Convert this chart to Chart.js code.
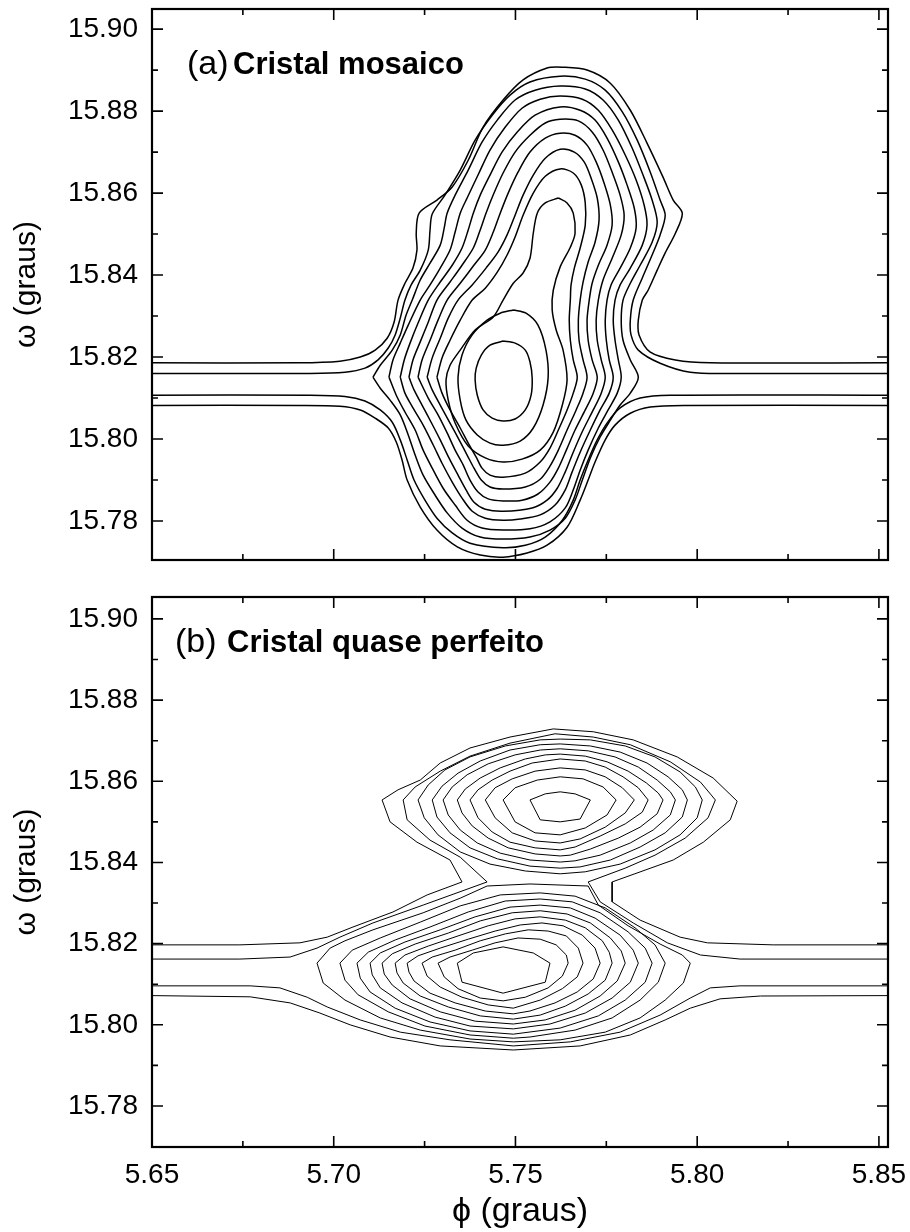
<!DOCTYPE html>
<html>
<head>
<meta charset="utf-8">
<script src="https://cdn.jsdelivr.net/npm/chart.js@4.4.0/dist/chart.umd.min.js"></script>
<style>
  body { margin: 0; background: #fff; }
  #boxA { position: absolute; left: 0; top: 0; }
  #boxB { position: absolute; left: 0; top: 580px; }
</style>
</head>
<body>
<div id="boxA"><canvas id="chartA" width="910" height="580"></canvas></div>
<div id="boxB"><canvas id="chartB" width="910" height="652"></canvas></div>
<script>
// axis ticks
const xTicks = [5.65, 5.70, 5.75, 5.80, 5.85];
const xMinor = [5.675, 5.725, 5.775, 5.825];
const yTicks = [15.78, 15.80, 15.82, 15.84, 15.86, 15.88, 15.90];
const yMinor = [15.79, 15.81, 15.83, 15.85, 15.87, 15.89];

// ---- panel (a): contour lines, [phi, omega] ----
const a1Top = [[5.65,15.8186],[5.6907,15.8186],[5.7017,15.8190],[5.7073,15.8200],[5.7114,15.8217],[5.7147,15.8246],[5.7166,15.8285],[5.7177,15.8339],[5.7196,15.8380],[5.7218,15.8417],[5.7229,15.8461],[5.7227,15.8502],[5.7235,15.8551],[5.7284,15.8583],[5.7326,15.8615],[5.7370,15.8680],[5.7411,15.8761],[5.7466,15.8827],[5.7521,15.8876],[5.7587,15.8905],[5.7629,15.8907],[5.7697,15.8900],[5.7761,15.8868],[5.7816,15.8802],[5.7862,15.8722],[5.7906,15.8639],[5.7934,15.8583],[5.7959,15.8551],[5.7940,15.8502],[5.7912,15.8454],[5.7890,15.8412],[5.7865,15.8363],[5.7849,15.8339],[5.7838,15.8290],[5.7840,15.8254],[5.7871,15.8212],[5.7940,15.8193],[5.8036,15.8186],[5.8526,15.8186]];
const a1Bot = [[5.65,15.8082],[5.6907,15.8082],[5.7017,15.8080],[5.7073,15.8071],[5.7114,15.8051],[5.7150,15.8027],[5.7172,15.7993],[5.7188,15.7949],[5.7202,15.7900],[5.7238,15.7834],[5.7284,15.7778],[5.7340,15.7737],[5.7403,15.7717],[5.7466,15.7712],[5.7532,15.7722],[5.7587,15.7741],[5.7642,15.7785],[5.7678,15.7851],[5.7700,15.7900],[5.7719,15.7944],[5.7747,15.7998],[5.7774,15.8034],[5.7816,15.8063],[5.7871,15.8078],[5.7962,15.8082],[5.8526,15.8082]];
const a2Top = [[5.65,15.8160],[5.6935,15.8160],[5.7031,15.8163],[5.7086,15.8173],[5.7122,15.8193],[5.7150,15.8222],[5.7169,15.8254],[5.7183,15.8295],[5.7196,15.8339],[5.7213,15.8376],[5.7238,15.8412],[5.7260,15.8461],[5.7265,15.8510],[5.7271,15.8549],[5.7306,15.8595],[5.7348,15.8656],[5.7389,15.8729],[5.7436,15.8790],[5.7485,15.8839],[5.7540,15.8871],[5.7623,15.8885],[5.7692,15.8878],[5.7747,15.8851],[5.7794,15.8798],[5.7835,15.8729],[5.7871,15.8651],[5.7898,15.8583],[5.7912,15.8546],[5.7898,15.8498],[5.7876,15.8449],[5.7849,15.8393],[5.7824,15.8339],[5.7816,15.8290],[5.7818,15.8254],[5.7838,15.8217],[5.7898,15.8185],[5.7981,15.8163],[5.8091,15.8160],[5.8526,15.8160]];
const a2Bot = [[5.65,15.8107],[5.6935,15.8107],[5.7031,15.8104],[5.7086,15.8093],[5.7128,15.8071],[5.7161,15.8041],[5.7183,15.7998],[5.7202,15.7949],[5.7221,15.7900],[5.7251,15.7851],[5.7284,15.7807],[5.7326,15.7771],[5.7375,15.7746],[5.7466,15.7735],[5.7527,15.7741],[5.7582,15.7761],[5.7629,15.7802],[5.7659,15.7851],[5.7678,15.7900],[5.7700,15.7949],[5.7725,15.7998],[5.7752,15.8039],[5.7788,15.8076],[5.7843,15.8100],[5.7926,15.8107],[5.8526,15.8107]];
const a3 = [[5.7108,15.8151],[5.7128,15.8180],[5.7161,15.8217],[5.7183,15.8254],[5.7199,15.8302],[5.7216,15.8339],[5.7238,15.8388],[5.7265,15.8429],[5.7293,15.8473],[5.7304,15.8515],[5.7312,15.8551],[5.7334,15.8595],[5.7370,15.8656],[5.7408,15.8724],[5.7450,15.8778],[5.7499,15.8827],[5.7554,15.8851],[5.7623,15.8861],[5.7692,15.8854],[5.7741,15.8827],[5.7783,15.8778],[5.7821,15.8710],[5.7851,15.8644],[5.7876,15.8583],[5.7890,15.8529],[5.7876,15.8480],[5.7843,15.8424],[5.7816,15.8380],[5.7796,15.8339],[5.7791,15.8290],[5.7796,15.8241],[5.7816,15.8193],[5.7838,15.8151],[5.7816,15.8112],[5.7788,15.8083],[5.7761,15.8046],[5.7733,15.8005],[5.7706,15.7954],[5.7684,15.7900],[5.7664,15.7851],[5.7637,15.7807],[5.7595,15.7778],[5.7540,15.7761],[5.7466,15.7756],[5.7403,15.7761],[5.7353,15.7783],[5.7312,15.7820],[5.7279,15.7863],[5.7246,15.7912],[5.7224,15.7961],[5.7205,15.8010],[5.7183,15.8059],[5.7155,15.8095],[5.7128,15.8124]];
const a4 = [[5.7152,15.8151],[5.7163,15.8193],[5.7183,15.8234],[5.7205,15.8278],[5.7238,15.8339],[5.7265,15.8376],[5.7293,15.8417],[5.7320,15.8461],[5.7334,15.8505],[5.7348,15.8551],[5.7367,15.8588],[5.7397,15.8644],[5.7430,15.8705],[5.7472,15.8761],[5.7518,15.8807],[5.7568,15.8829],[5.7623,15.8837],[5.7684,15.8829],[5.7728,15.8802],[5.7766,15.8754],[5.7802,15.8693],[5.7832,15.8632],[5.7854,15.8571],[5.7862,15.8522],[5.7849,15.8473],[5.7816,15.8417],[5.7788,15.8376],[5.7774,15.8339],[5.7769,15.8290],[5.7774,15.8241],[5.7783,15.8193],[5.7791,15.8151],[5.7780,15.8112],[5.7755,15.8071],[5.7728,15.8027],[5.7700,15.7973],[5.7678,15.7924],[5.7659,15.7876],[5.7637,15.7832],[5.7595,15.7798],[5.7540,15.7781],[5.7466,15.7778],[5.7408,15.7783],[5.7367,15.7802],[5.7334,15.7839],[5.7301,15.7880],[5.7271,15.7929],[5.7246,15.7973],[5.7224,15.8022],[5.7196,15.8066],[5.7172,15.8107]];
const a5 = [[5.7183,15.8151],[5.7194,15.8193],[5.7210,15.8234],[5.7232,15.8283],[5.7260,15.8339],[5.7293,15.8383],[5.7326,15.8424],[5.7353,15.8466],[5.7370,15.8510],[5.7384,15.8551],[5.7403,15.8595],[5.7430,15.8644],[5.7463,15.8700],[5.7505,15.8749],[5.7554,15.8790],[5.7623,15.8810],[5.7678,15.8802],[5.7719,15.8778],[5.7752,15.8734],[5.7783,15.8676],[5.7807,15.8620],[5.7827,15.8563],[5.7832,15.8515],[5.7816,15.8466],[5.7788,15.8417],[5.7763,15.8376],[5.7752,15.8339],[5.7747,15.8290],[5.7750,15.8241],[5.7758,15.8193],[5.7769,15.8151],[5.7758,15.8112],[5.7733,15.8071],[5.7706,15.8022],[5.7678,15.7968],[5.7656,15.7920],[5.7637,15.7876],[5.7609,15.7839],[5.7568,15.7815],[5.7513,15.7805],[5.7466,15.7802],[5.7417,15.7807],[5.7381,15.7824],[5.7353,15.7856],[5.7326,15.7895],[5.7298,15.7941],[5.7274,15.7985],[5.7246,15.8034],[5.7218,15.8076],[5.7196,15.8112]];
const a6 = [[5.7207,15.8151],[5.7218,15.8193],[5.7238,15.8237],[5.7260,15.8285],[5.7284,15.8339],[5.7320,15.8383],[5.7353,15.8424],[5.7384,15.8466],[5.7403,15.8510],[5.7419,15.8551],[5.7441,15.8600],[5.7466,15.8649],[5.7499,15.8700],[5.7540,15.8741],[5.7582,15.8771],[5.7623,15.8780],[5.7673,15.8776],[5.7711,15.8749],[5.7741,15.8705],[5.7766,15.8651],[5.7788,15.8595],[5.7799,15.8546],[5.7791,15.8498],[5.7766,15.8441],[5.7741,15.8388],[5.7728,15.8339],[5.7722,15.8290],[5.7725,15.8241],[5.7736,15.8193],[5.7747,15.8151],[5.7736,15.8112],[5.7714,15.8071],[5.7686,15.8022],[5.7659,15.7968],[5.7637,15.7920],[5.7615,15.7880],[5.7587,15.7851],[5.7546,15.7832],[5.7466,15.7824],[5.7417,15.7829],[5.7386,15.7846],[5.7364,15.7876],[5.7342,15.7912],[5.7317,15.7954],[5.7293,15.7998],[5.7268,15.8041],[5.7243,15.8083],[5.7221,15.8120]];
const a7 = [[5.7232,15.8151],[5.7243,15.8193],[5.7265,15.8241],[5.7287,15.8290],[5.7312,15.8339],[5.7348,15.8380],[5.7384,15.8422],[5.7417,15.8461],[5.7439,15.8505],[5.7458,15.8551],[5.7480,15.8600],[5.7507,15.8651],[5.7540,15.8700],[5.7582,15.8734],[5.7623,15.8746],[5.7664,15.8741],[5.7697,15.8717],[5.7722,15.8676],[5.7744,15.8624],[5.7761,15.8571],[5.7766,15.8522],[5.7752,15.8473],[5.7728,15.8424],[5.7711,15.8380],[5.7703,15.8339],[5.7697,15.8290],[5.7700,15.8241],[5.7711,15.8193],[5.7725,15.8151],[5.7714,15.8112],[5.7692,15.8071],[5.7664,15.8022],[5.7640,15.7973],[5.7618,15.7929],[5.7595,15.7895],[5.7562,15.7866],[5.7518,15.7851],[5.7466,15.7849],[5.7425,15.7854],[5.7397,15.7871],[5.7375,15.7900],[5.7356,15.7937],[5.7334,15.7973],[5.7312,15.8015],[5.7287,15.8059],[5.7260,15.8100]];
const a8 = [[5.7257,15.8151],[5.7271,15.8198],[5.7293,15.8246],[5.7315,15.8295],[5.7342,15.8339],[5.7381,15.8376],[5.7419,15.8417],[5.7452,15.8456],[5.7477,15.8498],[5.7499,15.8546],[5.7521,15.8595],[5.7549,15.8644],[5.7582,15.8685],[5.7623,15.8707],[5.7662,15.8700],[5.7689,15.8676],[5.7708,15.8637],[5.7725,15.8588],[5.7730,15.8534],[5.7719,15.8480],[5.7700,15.8432],[5.7686,15.8383],[5.7678,15.8339],[5.7673,15.8290],[5.7675,15.8241],[5.7686,15.8193],[5.7697,15.8151],[5.7686,15.8112],[5.7667,15.8071],[5.7642,15.8022],[5.7618,15.7973],[5.7595,15.7934],[5.7568,15.7902],[5.7527,15.7883],[5.7466,15.7878],[5.7430,15.7883],[5.7406,15.7900],[5.7386,15.7929],[5.7367,15.7961],[5.7345,15.7998],[5.7320,15.8039],[5.7293,15.8083],[5.7271,15.8120]];
const a9 = [[5.7284,15.8151],[5.7298,15.8198],[5.7320,15.8241],[5.7348,15.8290],[5.7381,15.8339],[5.7417,15.8368],[5.7450,15.8407],[5.7477,15.8449],[5.7499,15.8493],[5.7521,15.8546],[5.7549,15.8600],[5.7582,15.8641],[5.7623,15.8659],[5.7659,15.8649],[5.7681,15.8620],[5.7692,15.8576],[5.7692,15.8522],[5.7678,15.8466],[5.7662,15.8417],[5.7653,15.8376],[5.7651,15.8339],[5.7648,15.8290],[5.7651,15.8241],[5.7659,15.8193],[5.7670,15.8151],[5.7659,15.8112],[5.7642,15.8071],[5.7618,15.8022],[5.7595,15.7978],[5.7568,15.7944],[5.7527,15.7917],[5.7466,15.7907],[5.7430,15.7912],[5.7408,15.7929],[5.7392,15.7956],[5.7370,15.7990],[5.7348,15.8027],[5.7320,15.8071],[5.7298,15.8112]];
const a10 = [[5.7618,15.8588],[5.7582,15.8576],[5.7560,15.8551],[5.7549,15.8502],[5.7540,15.8441],[5.7521,15.8405],[5.7494,15.8380],[5.7466,15.8339],[5.7439,15.8298],[5.7389,15.8266],[5.7348,15.8217],[5.7320,15.8180],[5.7309,15.8144],[5.7315,15.8095],[5.7334,15.8039],[5.7370,15.7983],[5.7417,15.7954],[5.7466,15.7944],[5.7518,15.7951],[5.7568,15.7973],[5.7604,15.8017],[5.7629,15.8083],[5.7642,15.8144],[5.7631,15.8217],[5.7612,15.8266],[5.7601,15.8315],[5.7604,15.8363],[5.7623,15.8420],[5.7651,15.8468],[5.7664,15.8502],[5.7659,15.8551],[5.7642,15.8576]];
const a11 = [[5.7494,15.8315],[5.7458,15.8307],[5.7422,15.8290],[5.7381,15.8254],[5.7353,15.8205],[5.7342,15.8151],[5.7348,15.8095],[5.7364,15.8046],[5.7395,15.8010],[5.7430,15.7990],[5.7466,15.7985],[5.7513,15.7995],[5.7549,15.8027],[5.7576,15.8083],[5.7590,15.8151],[5.7584,15.8217],[5.7562,15.8278],[5.7529,15.8307]];
const a12 = [[5.7466,15.8239],[5.7430,15.8229],[5.7406,15.8205],[5.7392,15.8173],[5.7389,15.8144],[5.7395,15.8107],[5.7411,15.8071],[5.7436,15.8051],[5.7466,15.8044],[5.7499,15.8049],[5.7527,15.8071],[5.7543,15.8107],[5.7546,15.8149],[5.7540,15.8188],[5.7527,15.8217],[5.7499,15.8234]];

// ---- panel (b) ----
const b1Top = [[5.65,15.8197],[5.6742,15.8197],[5.6907,15.8202],[5.6982,15.8216],[5.7053,15.8241],[5.7163,15.8278],[5.7257,15.8320],[5.7353,15.8352],[5.7320,15.8406],[5.7229,15.8450],[5.7155,15.8500],[5.7133,15.8554],[5.7177,15.8579],[5.7238,15.8603],[5.7293,15.8645],[5.7375,15.8682],[5.7485,15.8709],[5.7604,15.8729],[5.7714,15.8722],[5.7824,15.8702],[5.7945,15.8660],[5.8044,15.8608],[5.8110,15.8551],[5.8091,15.8505],[5.8017,15.8450],[5.7934,15.8406],[5.7766,15.8352],[5.7766,15.8303],[5.7843,15.8258],[5.7953,15.8216],[5.8028,15.8202],[5.8209,15.8197],[5.8526,15.8197]];
const b1Bot = [[5.65,15.8072],[5.6770,15.8069],[5.6880,15.8054],[5.6962,15.8029],[5.7045,15.8000],[5.7155,15.7970],[5.7293,15.7948],[5.7494,15.7938],[5.7678,15.7948],[5.7816,15.7975],[5.7912,15.8012],[5.7981,15.8041],[5.8063,15.8064],[5.8174,15.8071],[5.8526,15.8072]];
const b2Top = [[5.65,15.8162],[5.6742,15.8162],[5.6880,15.8167],[5.6954,15.8189],[5.7017,15.8216],[5.7108,15.8251],[5.7246,15.8295],[5.7422,15.8352],[5.7348,15.8413],[5.7265,15.8455],[5.7202,15.8505],[5.7191,15.8554],[5.7224,15.8586],[5.7293,15.8625],[5.7375,15.8662],[5.7485,15.8694],[5.7609,15.8717],[5.7714,15.8709],[5.7816,15.8690],[5.7926,15.8648],[5.8009,15.8598],[5.8050,15.8554],[5.8030,15.8510],[5.7967,15.8460],[5.7884,15.8418],[5.7802,15.8386],[5.7700,15.8352],[5.7733,15.8303],[5.7824,15.8251],[5.7918,15.8202],[5.8009,15.8172],[5.8118,15.8162],[5.8526,15.8162]];
const b2Bot = [[5.65,15.8096],[5.6770,15.8096],[5.6852,15.8091],[5.6927,15.8068],[5.6982,15.8044],[5.7073,15.8012],[5.7183,15.7982],[5.7320,15.7963],[5.7494,15.7948],[5.7651,15.7958],[5.7788,15.7982],[5.7898,15.8024],[5.7981,15.8066],[5.8036,15.8091],[5.8118,15.8096],[5.8526,15.8096]];
// upper peak, closed
const bU3 = [[5.7232,15.8554],[5.7260,15.8591],[5.7306,15.8628],[5.7375,15.8660],[5.7472,15.8687],[5.7568,15.8702],[5.7623,15.8704],[5.7706,15.8702],[5.7802,15.8687],[5.7884,15.8660],[5.7953,15.8623],[5.7995,15.8586],[5.8014,15.8554],[5.8000,15.8510],[5.7953,15.8468],[5.7884,15.8431],[5.7788,15.8396],[5.7692,15.8377],[5.7623,15.8372],[5.7527,15.8379],[5.7430,15.8396],[5.7348,15.8426],[5.7287,15.8468],[5.7249,15.8510]];
const bU4 = [[5.7271,15.8554],[5.7298,15.8588],[5.7342,15.8620],[5.7403,15.8650],[5.7485,15.8677],[5.7568,15.8690],[5.7623,15.8692],[5.7706,15.8687],[5.7788,15.8672],[5.7862,15.8645],[5.7920,15.8611],[5.7959,15.8579],[5.7973,15.8554],[5.7959,15.8512],[5.7912,15.8473],[5.7843,15.8438],[5.7761,15.8406],[5.7678,15.8389],[5.7623,15.8386],[5.7540,15.8391],[5.7450,15.8409],[5.7375,15.8436],[5.7320,15.8473],[5.7284,15.8512]];
const bU5 = [[5.7301,15.8554],[5.7326,15.8586],[5.7367,15.8616],[5.7425,15.8643],[5.7499,15.8665],[5.7568,15.8677],[5.7623,15.8680],[5.7700,15.8675],[5.7774,15.8660],[5.7838,15.8635],[5.7890,15.8603],[5.7926,15.8574],[5.7940,15.8554],[5.7926,15.8517],[5.7879,15.8480],[5.7816,15.8448],[5.7733,15.8418],[5.7664,15.8404],[5.7623,15.8401],[5.7540,15.8406],[5.7458,15.8423],[5.7395,15.8448],[5.7348,15.8480],[5.7315,15.8517]];
const bU6 = [[5.7340,15.8554],[5.7362,15.8581],[5.7403,15.8608],[5.7458,15.8633],[5.7527,15.8655],[5.7582,15.8665],[5.7623,15.8667],[5.7692,15.8662],[5.7752,15.8648],[5.7810,15.8625],[5.7860,15.8596],[5.7893,15.8571],[5.7906,15.8554],[5.7890,15.8520],[5.7843,15.8487],[5.7783,15.8460],[5.7706,15.8433],[5.7651,15.8418],[5.7623,15.8416],[5.7554,15.8421],[5.7480,15.8436],[5.7425,15.8460],[5.7381,15.8490],[5.7353,15.8522]];
const bU7 = [[5.7375,15.8554],[5.7397,15.8579],[5.7436,15.8603],[5.7485,15.8625],[5.7546,15.8645],[5.7623,15.8655],[5.7692,15.8650],[5.7747,15.8635],[5.7796,15.8611],[5.7838,15.8584],[5.7865,15.8554],[5.7849,15.8524],[5.7802,15.8495],[5.7733,15.8465],[5.7664,15.8438],[5.7623,15.8431],[5.7554,15.8436],[5.7485,15.8450],[5.7436,15.8475],[5.7397,15.8510]];
const bU8 = [[5.7417,15.8554],[5.7444,15.8584],[5.7491,15.8606],[5.7554,15.8625],[5.7623,15.8633],[5.7692,15.8628],[5.7747,15.8611],[5.7794,15.8584],[5.7827,15.8554],[5.7802,15.8522],[5.7747,15.8487],[5.7678,15.8458],[5.7623,15.8448],[5.7554,15.8453],[5.7491,15.8473],[5.7444,15.8510]];
const bU9 = [[5.7466,15.8554],[5.7499,15.8584],[5.7560,15.8603],[5.7623,15.8611],[5.7686,15.8606],[5.7741,15.8586],[5.7777,15.8554],[5.7752,15.8517],[5.7692,15.8485],[5.7623,15.8468],[5.7554,15.8473],[5.7499,15.8500]];
const bU10 = [[5.7540,15.8554],[5.7582,15.8569],[5.7623,15.8574],[5.7664,15.8569],[5.7706,15.8554],[5.7678,15.8507],[5.7623,15.8500],[5.7568,15.8505]];
// lower peak, closed
const bL3 = [[5.6954,15.8152],[5.6990,15.8189],[5.7031,15.8207],[5.7108,15.8234],[5.7246,15.8276],[5.7348,15.8312],[5.7422,15.8342],[5.7540,15.8347],[5.7700,15.8342],[5.7728,15.8295],[5.7810,15.8244],[5.7898,15.8199],[5.7959,15.8172],[5.7981,15.8152],[5.7962,15.8103],[5.7912,15.8061],[5.7843,15.8017],[5.7747,15.7982],[5.7623,15.7963],[5.7494,15.7958],[5.7375,15.7965],[5.7238,15.7987],[5.7128,15.8017],[5.7031,15.8061],[5.6971,15.8103]];
const bL4 = [[5.7017,15.8152],[5.7051,15.8184],[5.7128,15.8214],[5.7238,15.8253],[5.7348,15.8293],[5.7458,15.8320],[5.7568,15.8325],[5.7664,15.8317],[5.7747,15.8288],[5.7829,15.8239],[5.7884,15.8197],[5.7912,15.8152],[5.7893,15.8105],[5.7843,15.8061],[5.7766,15.8017],[5.7664,15.7987],[5.7540,15.7970],[5.7494,15.7967],[5.7375,15.7975],[5.7251,15.7997],[5.7150,15.8032],[5.7067,15.8074],[5.7031,15.8110]];
const bL5 = [[5.7064,15.8152],[5.7095,15.8179],[5.7169,15.8209],[5.7265,15.8241],[5.7370,15.8278],[5.7472,15.8305],[5.7568,15.8310],[5.7656,15.8303],[5.7733,15.8276],[5.7810,15.8229],[5.7857,15.8189],[5.7876,15.8152],[5.7857,15.8105],[5.7802,15.8061],[5.7728,15.8022],[5.7623,15.7992],[5.7494,15.7977],[5.7375,15.7985],[5.7265,15.8007],[5.7169,15.8041],[5.7100,15.8081],[5.7073,15.8115]];
const bL6 = [[5.7100,15.8152],[5.7128,15.8177],[5.7196,15.8204],[5.7293,15.8234],[5.7389,15.8266],[5.7485,15.8290],[5.7568,15.8295],[5.7651,15.8288],[5.7719,15.8263],[5.7788,15.8221],[5.7824,15.8184],[5.7838,15.8152],[5.7816,15.8105],[5.7766,15.8066],[5.7692,15.8029],[5.7595,15.8002],[5.7494,15.7990],[5.7375,15.7997],[5.7279,15.8019],[5.7188,15.8054],[5.7128,15.8091],[5.7106,15.8123]];
const bL7 = [[5.7133,15.8152],[5.7161,15.8175],[5.7224,15.8199],[5.7315,15.8226],[5.7403,15.8256],[5.7491,15.8276],[5.7568,15.8281],[5.7642,15.8273],[5.7706,15.8251],[5.7761,15.8214],[5.7791,15.8182],[5.7802,15.8152],[5.7780,15.8108],[5.7733,15.8071],[5.7664,15.8036],[5.7582,15.8012],[5.7494,15.8002],[5.7389,15.8009],[5.7293,15.8032],[5.7210,15.8064],[5.7161,15.8098],[5.7139,15.8125]];
const bL8 = [[5.7169,15.8152],[5.7196,15.8172],[5.7260,15.8194],[5.7342,15.8219],[5.7425,15.8244],[5.7499,15.8261],[5.7568,15.8266],[5.7637,15.8258],[5.7692,15.8239],[5.7739,15.8207],[5.7758,15.8179],[5.7766,15.8152],[5.7747,15.8110],[5.7700,15.8076],[5.7637,15.8046],[5.7568,15.8024],[5.7494,15.8014],[5.7403,15.8022],[5.7315,15.8044],[5.7238,15.8071],[5.7191,15.8103],[5.7174,15.8128]];
const bL9 = [[5.7202,15.8152],[5.7232,15.8170],[5.7293,15.8189],[5.7370,15.8211],[5.7444,15.8231],[5.7513,15.8246],[5.7573,15.8251],[5.7631,15.8244],[5.7684,15.8221],[5.7719,15.8189],[5.7733,15.8152],[5.7714,15.8113],[5.7670,15.8081],[5.7609,15.8054],[5.7540,15.8034],[5.7494,15.8027],[5.7417,15.8034],[5.7334,15.8054],[5.7265,15.8078],[5.7221,15.8108],[5.7207,15.8130]];
const bL10 = [[5.7243,15.8152],[5.7271,15.8167],[5.7334,15.8184],[5.7403,15.8207],[5.7472,15.8224],[5.7535,15.8234],[5.7590,15.8231],[5.7640,15.8219],[5.7673,15.8189],[5.7686,15.8152],[5.7670,15.8118],[5.7629,15.8089],[5.7568,15.8061],[5.7494,15.8041],[5.7425,15.8049],[5.7353,15.8068],[5.7293,15.8093],[5.7257,15.8120]];
const bL11 = [[5.7287,15.8152],[5.7320,15.8167],[5.7381,15.8184],[5.7444,15.8202],[5.7507,15.8214],[5.7568,15.8211],[5.7612,15.8197],[5.7640,15.8172],[5.7645,15.8152],[5.7629,15.8120],[5.7590,15.8091],[5.7527,15.8068],[5.7466,15.8059],[5.7403,15.8066],[5.7342,15.8089],[5.7304,15.8118]];
const bL12 = [[5.7340,15.8152],[5.7384,15.8177],[5.7466,15.8192],[5.7549,15.8177],[5.7595,15.8152],[5.7582,15.8105],[5.7466,15.8078],[5.7353,15.8105]];

const FONT = "'Liberation Sans', Arial, Helvetica, sans-serif";
Chart.defaults.font.family = FONT;
Chart.defaults.color = '#000';

function lineSets(list, closed, width, tension) {
  return list.map(pts => ({
    data: (closed ? pts.concat([pts[0]]) : pts).map(p => ({x: p[0], y: p[1]})),
    showLine: true,
    borderColor: '#000',
    borderWidth: width,
    pointRadius: 0,
    tension: tension,
    fill: false
  }));
}

// frame, inward ticks and the panel caption
const framePlugin = {
  id: 'frame',
  afterDraw(chart, args, o) {
    const {ctx, chartArea: a} = chart;
    const xs = chart.scales.x, ys = chart.scales.y;
    ctx.save();
    ctx.strokeStyle = '#000';
    ctx.lineWidth = 1.6;
    ctx.beginPath();
    const xt = (vals, len) => vals.forEach(v => {
      const p = xs.getPixelForValue(v);
      ctx.moveTo(p, a.bottom); ctx.lineTo(p, a.bottom - len);
      ctx.moveTo(p, a.top); ctx.lineTo(p, a.top + len);
    });
    const yt = (vals, len) => vals.forEach(v => {
      const p = ys.getPixelForValue(v);
      ctx.moveTo(a.left, p); ctx.lineTo(a.left + len, p);
      ctx.moveTo(a.right, p); ctx.lineTo(a.right - len, p);
    });
    xt(xTicks, 11); xt(xMinor, 6);
    yt(yTicks, 11); yt(yMinor, 6);
    ctx.stroke();
    ctx.lineWidth = 2.2;
    ctx.strokeRect(a.left, a.top, a.right - a.left, a.bottom - a.top);
    ctx.fillStyle = '#000';
    ctx.textBaseline = 'alphabetic';
    ctx.font = '34px ' + FONT;
    ctx.fillText(o.tag, o.tx, o.base);
    ctx.font = 'bold 31px ' + FONT;
    ctx.fillText(o.text, o.bx, o.base);
    ctx.restore();
  }
};

function makeOptions(yMin, yMax, padTop, showX, caption) {
  return {
    responsive: false,
    animation: false,
    layout: {padding: {top: padTop, right: 22, left: 0, bottom: 0}},
    plugins: {legend: {display: false}, tooltip: {enabled: false}, frame: caption},
    scales: {
      x: {
        type: 'linear', min: 5.65, max: 5.8525,
        afterBuildTicks: s => { s.ticks = xTicks.map(v => ({value: v})); },
        afterFit: s => { s.height = showX ? 85 : 20; s.paddingLeft = 0; s.paddingRight = 0; },
        grid: {display: false, drawTicks: false},
        border: {display: false},
        ticks: {display: showX, padding: 11, font: {size: 28}, color: '#000', maxRotation: 0,
                callback: v => v.toFixed(2)},
        title: {display: showX, text: '\u03D5 (graus)', font: {size: 34}, color: '#000',
                padding: {top: 0, bottom: 0}}
      },
      y: {
        type: 'linear', min: yMin, max: yMax,
        afterBuildTicks: s => { s.ticks = yTicks.map(v => ({value: v})); },
        afterFit: s => { s.width = 152; s.paddingTop = 0; s.paddingBottom = 0; },
        grid: {display: false, drawTicks: false},
        border: {display: false},
        ticks: {padding: 14, font: {size: 28}, color: '#000', callback: v => v.toFixed(2)},
        title: {display: true, text: '\u03C9 (graus)', font: {size: 30}, color: '#000',
                padding: {top: 9, bottom: 0}}
      }
    }
  };
}

new Chart(document.getElementById('chartA'), {
  type: 'scatter',
  data: {datasets: [
    ...lineSets([a1Top, a1Bot, a2Top, a2Bot], false, 1.5, 0.3),
    ...lineSets([a3, a4, a5, a6, a7, a8, a9, a10, a11, a12], true, 1.5, 0.3)
  ]},
  options: makeOptions(15.7705, 15.9049, 9, false,
    {tag: '(a)', text: 'Cristal mosaico', tx: 187, bx: 233, base: 74}),
  plugins: [framePlugin]
});

new Chart(document.getElementById('chartB'), {
  type: 'scatter',
  data: {datasets: [
    ...lineSets([b1Top, b1Bot, b2Top, b2Bot], false, 1, 0),
    ...lineSets([bU3, bU4, bU5, bU6, bU7, bU8, bU9, bU10], true, 1, 0),
    ...lineSets([bL3, bL4, bL5, bL6, bL7, bL8, bL9, bL10, bL11, bL12], true, 1, 0)
  ]},
  options: makeOptions(15.7699, 15.9054, 17, true,
    {tag: '(b)', text: 'Cristal quase perfeito', tx: 175, bx: 227, base: 72}),
  plugins: [framePlugin]
});
</script>
</body>
</html>
